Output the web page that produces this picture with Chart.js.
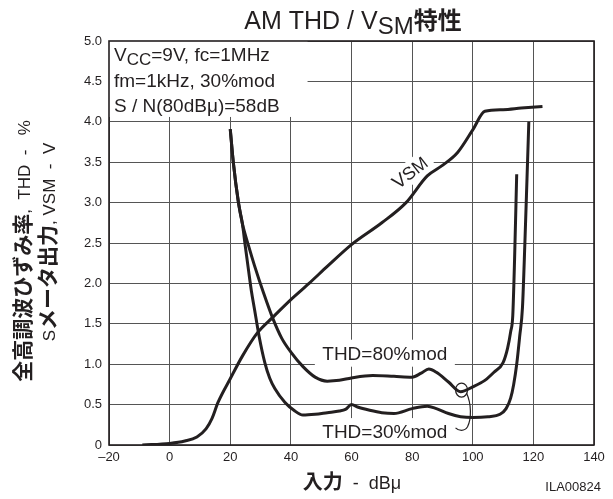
<!DOCTYPE html>
<html>
<head>
<meta charset="utf-8">
<script src="https://cdn.jsdelivr.net/npm/chart.js@4/dist/chart.umd.min.js"></script>
<style>
html, body { margin: 0; padding: 0; background: #fff; }
</style>
</head>
<body>
<canvas id="chart" width="613" height="499"></canvas>
<script>
// input level in dBu and the curves
var vsmInput = [-9, 0, 5, 9, 12, 14, 16, 20, 24, 29, 34, 40, 46, 52, 60, 70, 78, 85, 90, 95, 100, 104, 110, 116, 123];
var vsmVolts = [0, 0.02, 0.05, 0.1, 0.2, 0.33, 0.53, 0.82, 1.1, 1.39, 1.58, 1.8, 2.0, 2.21, 2.48, 2.75, 3.0, 3.33, 3.46, 3.62, 3.9, 4.13, 4.15, 4.17, 4.19];

var thd80Input = [20, 21, 22.7, 24, 26, 28, 31, 34, 37, 40, 44, 48, 52, 56, 60, 67, 74, 80, 83, 85.5, 88, 92, 96, 100, 104, 107, 110, 111.5, 112.5, 113.2, 113.8, 114.5];
var thd80Pct = [3.91, 3.5, 3.0, 2.74, 2.47, 2.22, 1.88, 1.57, 1.32, 1.15, 0.97, 0.84, 0.79, 0.8, 0.83, 0.86, 0.85, 0.84, 0.89, 0.94, 0.9, 0.78, 0.66, 0.72, 0.8, 0.9, 1.02, 1.2, 1.4, 1.6, 2.3, 3.35];

var thd30Input = [20, 21, 22.7, 24, 25, 26, 27, 28, 29.5, 31.4, 33, 34.7, 38, 41, 44, 48, 52, 56, 58, 60, 62, 66, 70, 74, 80, 85, 88, 92, 96, 100, 105, 109, 111, 112.5, 113.5, 114.5, 115.5, 116.4, 117.2, 117.9, 118.5];
var thd30Pct = [3.91, 3.5, 3.0, 2.74, 2.45, 2.17, 1.9, 1.68, 1.35, 1.02, 0.83, 0.7, 0.53, 0.43, 0.37, 0.38, 0.4, 0.42, 0.44, 0.5, 0.47, 0.43, 0.4, 0.39, 0.45, 0.48, 0.45, 0.39, 0.35, 0.34, 0.35, 0.38, 0.45, 0.58, 0.75, 1.0, 1.35, 1.7, 2.5, 3.3, 4.0];

var xTicks = [-20, 0, 20, 40, 60, 80, 100, 120, 140];
var yTicks = [0, 0.5, 1.0, 1.5, 2.0, 2.5, 3.0, 3.5, 4.0, 4.5, 5.0];

var latin = '"Liberation Sans", Arial, sans-serif';
var cjk = '"Noto Sans CJK JP", "Noto Sans", sans-serif';
var ink = '#231f20';

function toPoints(xs, ys) {
    var pts = [];
    for (var i = 0; i < xs.length; i++) {
        pts.push({x: xs[i], y: ys[i]});
    }
    return pts;
}

function curve(pts) {
    return {
        data: pts,
        borderColor: ink,
        borderWidth: 3,
        pointRadius: 0,
        fill: false,
        cubicInterpolationMode: 'monotone'
    };
}

// draws a run of text pieces with different fonts, starting at x
function richText(ctx, parts, x, y) {
    for (var i = 0; i < parts.length; i++) {
        var p = parts[i];
        ctx.font = p.f;
        ctx.fillText(p.t, x, y + (p.dy || 0));
        x += ctx.measureText(p.t).width;
    }
    return x;
}

function richWidth(ctx, parts) {
    var w = 0;
    for (var i = 0; i < parts.length; i++) {
        ctx.font = parts[i].f;
        w += ctx.measureText(parts[i].t).width;
    }
    return w;
}

function centered(ctx, parts, cx, y) {
    richText(ctx, parts, cx - richWidth(ctx, parts) / 2, y);
}

var annotations = {
    id: 'annotations',
    beforeDatasetsDraw: function(chart) {
        var ctx = chart.ctx;
        var a = chart.chartArea;
        var sx = chart.scales.x, sy = chart.scales.y;
        ctx.save();
        ctx.fillStyle = '#fff';
        // condition box in the top left corner
        ctx.fillRect(a.left, a.top, sx.getPixelForValue(45.5) - a.left, sy.getPixelForValue(4.06) - a.top);

        // label backgrounds
        var lx = sx.getPixelForValue(71);
        ctx.fillRect(lx - 70, sy.getPixelForValue(1.13) - 14, 140, 27);
        ctx.fillRect(lx - 70, sy.getPixelForValue(0.16) - 14, 140, 27);

        var vx = sx.getPixelForValue(79.3), vy = sy.getPixelForValue(3.37);
        ctx.translate(vx, vy);
        ctx.rotate(-38 * Math.PI / 180);
        ctx.fillRect(-25, -11, 50, 22);
        ctx.fillStyle = ink;
        ctx.textBaseline = 'middle';
        centered(ctx, [{t: 'V', f: '19px ' + latin}, {t: 'SM', f: '18px ' + latin}], 0, 1);
        ctx.restore();

        ctx.save();
        ctx.fillStyle = ink;
        ctx.textBaseline = 'middle';
        centered(ctx, [{t: 'THD=80%mod', f: '19px ' + latin}], lx, sy.getPixelForValue(1.13) + 1);
        centered(ctx, [{t: 'THD=30%mod', f: '19px ' + latin}], lx, sy.getPixelForValue(0.16) + 1);

        ctx.textBaseline = 'alphabetic';
        var f = '19px ' + latin;
        richText(ctx, [{t: 'V', f: f}, {t: 'CC', f: '17px ' + latin, dy: 4}, {t: '=9V, fc=1MHz', f: f}], a.left + 5, 61);
        richText(ctx, [{t: 'fm=1kHz, 30%mod', f: f}], a.left + 5, 87);
        richText(ctx, [{t: 'S / N(80dB\u03bc)=58dB', f: f}], a.left + 5, 112);

        // plot frame
        ctx.strokeStyle = ink;
        ctx.lineWidth = 1.6;
        ctx.strokeRect(a.left, a.top, a.right - a.left, a.bottom - a.top);
        ctx.restore();
    },
    afterDatasetsDraw: function(chart) {
        var ctx = chart.ctx;
        var sx = chart.scales.x, sy = chart.scales.y;
        // little loop tying the two THD curves together
        var ex = sx.getPixelForValue(96.3), ey = sy.getPixelForValue(0.68);
        var by = sy.getPixelForValue(0.25);
        ctx.save();
        ctx.strokeStyle = ink;
        ctx.lineWidth = 1.2;
        ctx.beginPath();
        ctx.ellipse(ex, ey, 6, 7, 0, 0, Math.PI * 2);
        ctx.stroke();
        ctx.beginPath();
        ctx.moveTo(ex + 5, ey + 3);
        ctx.bezierCurveTo(ex + 10, ey + 14, ex + 10, by - 6, ex + 6, by + 2);
        ctx.bezierCurveTo(ex + 3, by + 7, ex - 3, by + 6, ex - 6, by + 3);
        ctx.stroke();
        ctx.restore();
    },
    afterDraw: function(chart) {
        var ctx = chart.ctx;
        ctx.save();
        ctx.fillStyle = ink;
        ctx.textBaseline = 'alphabetic';

        // title
        centered(ctx, [
            {t: 'AM THD / V', f: '25px ' + latin},
            {t: 'SM', f: '24px ' + latin, dy: 5},
            {t: '特性', f: 'bold 24px ' + cjk}
        ], 353, 29);

        // x axis title
        centered(ctx, [
            {t: '入力', f: 'bold 20px ' + cjk},
            {t: '  -  dB\u03bc', f: '18px ' + latin}
        ], 352, 489);
        ctx.font = '13px ' + latin;
        ctx.textAlign = 'right';
        ctx.fillText('ILA00824', 601, 491);
        ctx.textAlign = 'left';

        // y axis title, two rotated lines
        ctx.save();
        ctx.translate(30, 251);
        ctx.rotate(-Math.PI / 2);
        centered(ctx, [
            {t: '全高調波ひずみ率', f: 'bold 21px ' + cjk},
            {t: ',  THD  -   %', f: '17px ' + latin}
        ], 0, 0);
        ctx.restore();
        ctx.save();
        ctx.translate(55, 242);
        ctx.rotate(-Math.PI / 2);
        centered(ctx, [
            {t: 'S', f: '17px ' + latin},
            {t: 'メータ出力', f: 'bold 21px ' + cjk},
            {t: ', VSM  -  V', f: '17px ' + latin}
        ], 0, 0);
        ctx.restore();
        ctx.restore();
    }
};

new Chart(document.getElementById('chart').getContext('2d'), {
    type: 'line',
    data: {
        datasets: [
            curve(toPoints(vsmInput, vsmVolts)),
            curve(toPoints(thd80Input, thd80Pct)),
            curve(toPoints(thd30Input, thd30Pct))
        ]
    },
    options: {
        responsive: false,
        animation: false,
        layout: { padding: { top: 41, right: 19, bottom: 0, left: 0 } },
        plugins: { legend: { display: false }, tooltip: { enabled: false }, title: { display: false } },
        scales: {
            x: {
                type: 'linear',
                min: xTicks[0],
                max: xTicks[xTicks.length - 1],
                afterBuildTicks: function(s) { s.ticks = xTicks.map(function(v) { return {value: v}; }); },
                afterFit: function(s) { s.height = 54; },
                grid: { color: '#555', lineWidth: 1, drawTicks: false },
                border: { display: false },
                ticks: {
                    color: ink,
                    padding: 5,
                    maxRotation: 0,
                    font: { family: latin, size: 13 },
                    callback: function(v) { return v < 0 ? '\u2013' + Math.abs(v) : String(v); }
                }
            },
            y: {
                min: yTicks[0],
                max: yTicks[yTicks.length - 1],
                afterBuildTicks: function(s) { s.ticks = yTicks.map(function(v) { return {value: v}; }); },
                afterFit: function(s) { s.width = 109; },
                grid: { color: '#555', lineWidth: 1, drawTicks: false },
                border: { display: false },
                ticks: {
                    color: ink,
                    padding: 7,
                    font: { family: latin, size: 13 },
                    callback: function(v) { return v === 0 ? '0' : v.toFixed(1); }
                }
            }
        }
    },
    plugins: [annotations]
});
</script>
</body>
</html>
